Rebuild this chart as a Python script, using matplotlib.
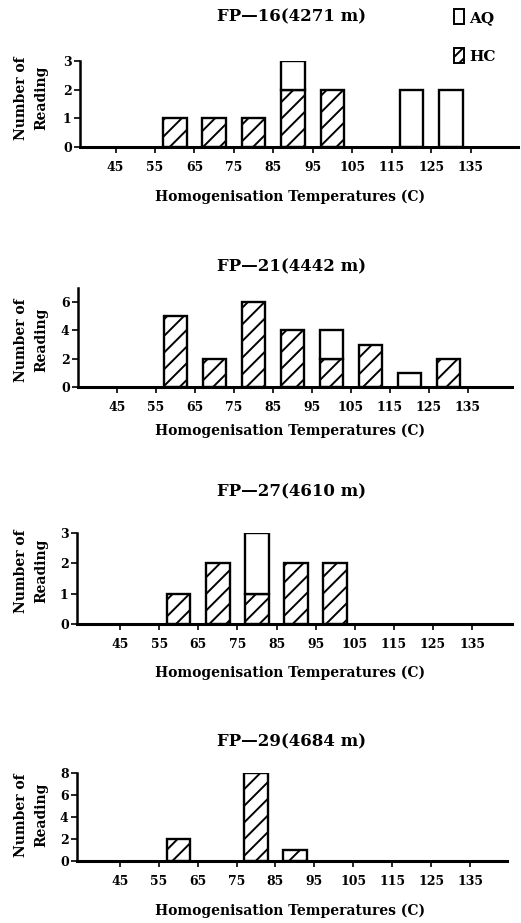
import matplotlib
matplotlib.use("Agg")
import matplotlib.pyplot as plt
from matplotlib.patches import Patch

plt.rcParams['font.family'] = ['DejaVu Serif']
plt.rcParams['font.weight'] = 'bold'
plt.rcParams['hatch.linewidth'] = 1.4

bin_centers = [60, 70, 80, 90, 100, 110, 120, 130]
tick_values = [45, 55, 65, 75, 85, 95, 105, 115, 125, 135]
tick_labels = ['45', '55', '65', '75', '85', '95', '105', '115', '125', '135']

titles = ['FP\u201416(4271 m)', 'FP\u201421(4442 m)', 'FP\u201427(4610 m)', 'FP\u201429(4684 m)']

hc_fp16 = [1, 1, 1, 2, 2, 0, 0, 0]
aq_fp16 = [0, 0, 0, 1, 0, 0, 2, 2]
hc_fp21 = [5, 2, 6, 4, 2, 3, 0, 2]
aq_fp21 = [0, 0, 0, 0, 2, 0, 1, 0]
hc_fp27 = [1, 2, 1, 2, 2, 0, 0, 0]
aq_fp27 = [0, 0, 2, 0, 0, 0, 0, 0]
hc_fp29 = [2, 0, 8, 1, 0, 0, 0, 0]
aq_fp29 = [0, 0, 0, 0, 0, 0, 0, 0]

yticks_list = [[0, 1, 2, 3], [0, 2, 4, 6], [0, 1, 2, 3], [0, 2, 4, 6, 8]]
ylims = [(0, 3), (0, 7), (0, 3), (0, 8)]

hc_all = [hc_fp16, hc_fp21, hc_fp27, hc_fp29]
aq_all = [aq_fp16, aq_fp21, aq_fp27, aq_fp29]

W, H = 521, 923
fig = plt.figure(figsize=(W / 100, H / 100), dpi=100)

# (left, top, right, bottom) in pixels
boxes = [(80, 61, 518, 147), (78, 288, 512, 387), (77, 533, 512, 624), (77, 773, 507, 861)]
xlims = [(36, 147), (35, 146.3), (34, 145.2), (34, 144.5)]
xlabel_y = [197, 431, 673, 911]
title_y = [17, 267, 492, 742]
ylabel_y = [98, 340, 571, 815]

for i in range(4):
    l, t, r, b = boxes[i]
    ax = fig.add_axes([l / W, 1 - b / H, (r - l) / W, (b - t) / H])
    hc = hc_all[i]
    aq = aq_all[i]
    hc_x = [c for c, v in zip(bin_centers, hc) if v > 0]
    hc_h = [v for v in hc if v > 0]
    ax.bar(hc_x, hc_h, width=6, facecolor='white', edgecolor='black',
           linewidth=1.7, hatch='//')
    aq_x = [c for c, v in zip(bin_centers, aq) if v > 0]
    aq_h = [v for v in aq if v > 0]
    aq_b = [h for h, v in zip(hc, aq) if v > 0]
    if aq_x:
        ax.bar(aq_x, aq_h, bottom=aq_b, width=6, facecolor='white', edgecolor='black',
               linewidth=1.7)
    ax.set_xlim(*xlims[i])
    ax.set_ylim(*ylims[i])
    ax.set_xticks(tick_values)
    ax.set_xticklabels(tick_labels, fontsize=9, fontweight='bold')
    ax.set_yticks(yticks_list[i])
    ax.set_yticklabels([str(v) for v in yticks_list[i]], fontsize=9, fontweight='bold')
    for s in ['top', 'right']:
        ax.spines[s].set_visible(False)
    ax.spines['bottom'].set_linewidth(2.2)
    ax.spines['left'].set_linewidth(1.8)
    ax.tick_params(axis='x', direction='out', length=4, width=1.2, pad=6)
    ax.tick_params(axis='y', direction='out', length=4, width=1.2, pad=2)
    fig.text(31 / W, 1 - ylabel_y[i] / H, 'Number of\nReading', rotation=90,
             ha='center', va='center', multialignment='center',
             fontsize=10, fontweight='bold', linespacing=1.55)
    fig.text(290 / W, 1 - xlabel_y[i] / H, 'Homogenisation Temperatures (C)',
             ha='center', va='center', fontsize=10, fontweight='bold')
    fig.text(292 / W, 1 - title_y[i] / H, titles[i], ha='center', va='center',
             fontsize=12, fontweight='bold')

handles = [Patch(facecolor='white', edgecolor='black', linewidth=1.4, label='AQ'),
           Patch(facecolor='white', edgecolor='black', linewidth=1.4, hatch='///', label='HC')]
fig.legend(handles=handles, loc='upper left', bbox_to_anchor=(440 / W, 1 + 5 / H),
           frameon=False, handlelength=0.7, handleheight=1.2,
           handletextpad=0.3, labelspacing=1.5, prop={'weight': 'bold', 'size': 11})

fig.savefig('out.png', dpi=100)
